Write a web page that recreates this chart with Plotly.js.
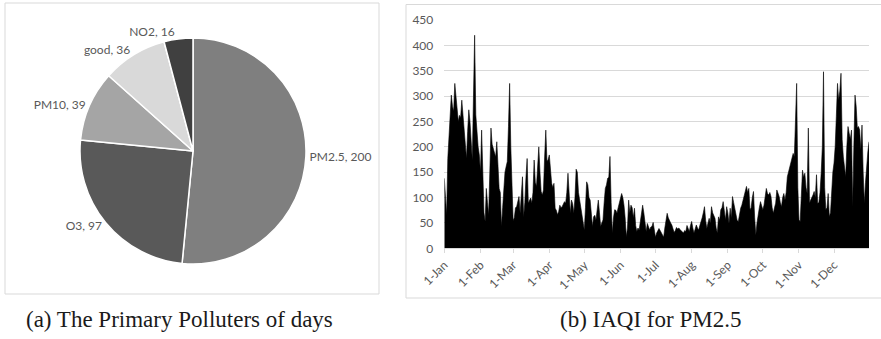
<!DOCTYPE html>
<html><head><meta charset="utf-8">
<script src="https://cdn.plot.ly/plotly-3.0.1.min.js"></script>
<style>html,body{margin:0;padding:0;background:#fff}#chart{width:881px;height:339px}</style>
</head><body><div id="chart"></div>
<script>
// ---- Pie data ----
const pollutantLabels = ['PM2.5', 'O3', 'PM10', 'good', 'NO2'];
const pollutantDays = [200, 97, 39, 36, 16];
const pollutantColors = ['#7f7f7f', '#595959', '#a5a5a5', '#d9d9d9', '#404040'];

// ---- Daily IAQI for PM2.5 ----
const jan = [138,95,66,177,230,260,302,280,270,325,299,275,250,262,258,292,266,240,200,177,230,273,250,210,174,300,420,263,220,200,184];
const feb = [150,233,120,70,53,118,90,66,150,237,205,197,187,180,210,150,118,110,43,80,120,150,161,171,240,325,200,100];
const mar = [55,60,80,82,95,102,69,100,141,62,90,140,177,89,95,99,89,110,174,130,122,170,200,150,112,105,115,180,233,171,175];
const apr = [184,150,128,120,128,79,75,66,72,85,80,82,89,92,89,110,148,100,69,95,88,69,100,156,150,110,95,85,69,50];
const may = [36,80,131,125,100,95,60,43,62,65,56,80,95,70,43,50,56,90,118,125,138,140,181,90,30,60,76,75,69,80,89];
const jun = [95,108,100,85,60,23,40,95,70,85,80,60,79,45,33,40,36,50,62,85,70,45,33,49,40,36,42,43,51,40];
const jul = [22,30,35,39,35,30,25,22,40,56,69,60,53,50,46,40,31,35,41,38,40,37,35,33,30,35,33,45,38,33,45];
const aug = [53,40,30,38,46,40,36,45,56,60,70,82,55,39,50,59,50,82,70,65,59,40,30,62,55,76,80,92,70,56,82];
const sep = [70,49,79,60,102,90,76,60,55,53,70,79,85,95,105,115,122,110,118,76,80,100,112,60,26,50,69,80,92,85];
const oct = [76,85,100,118,108,105,110,102,80,69,80,89,115,110,102,90,82,100,108,95,110,141,150,165,174,180,187,181,250,325,120];
const nov = [56,53,100,154,140,148,120,108,237,89,95,99,105,112,100,145,89,90,110,148,200,348,120,76,80,108,62,70,122,150];
const dec = [168,200,260,325,292,310,345,214,180,161,141,200,240,227,215,233,82,200,302,280,237,240,233,194,243,150,89,130,174,190,210];

const monthTickText = ['1-Jan','1-Feb','1-Mar','1-Apr','1-May','1-Jun','1-Jul','1-Aug','1-Sep','1-Oct','1-Nov','1-Dec'];
const yTicks = [0,50,100,150,200,250,300,350,400,450];
const year = 2015;

const captionA = '(a) The Primary Polluters of days';
const captionB = '(b) IAQI for PM2.5';

// ---- build ----
const months = [jan,feb,mar,apr,may,jun,jul,aug,sep,oct,nov,dec];
const iaqi = [].concat(...months);
function pad(n){return (n<10?'0':'')+n;}
const dates = [];
months.forEach((m, mi) => m.forEach((v, di) => dates.push(year+'-'+pad(mi+1)+'-'+pad(di+1))));
const monthStarts = months.map((m, mi) => year+'-'+pad(mi+1)+'-01');

const W = 881, H = 339;
const px = x => x / W, py = y => 1 - y / H;
const grayText = '#595959';
const uiFont = 'Lato, "Open Sans", sans-serif';
const serifFont = '"Liberation Serif", "DejaVu Serif", serif';

const pie = {
  type: 'pie',
  labels: pollutantLabels,
  values: pollutantDays,
  sort: false,
  direction: 'clockwise',
  rotation: 0,
  marker: {colors: pollutantColors, line: {color: '#ffffff', width: 1.5}},
  textposition: 'outside',
  texttemplate: '%{label}, %{value}',
  textfont: {family: uiFont, size: 12, color: grayText},
  outsidetextfont: {family: uiFont, size: 12, color: grayText},
  domain: {x: [px(80), px(306)], y: [py(264), py(38)]},
  automargin: false,
  showlegend: false,
  hoverinfo: 'none'
};

const area = {
  type: 'scatter',
  mode: 'lines',
  x: dates,
  y: iaqi,
  fill: 'tozeroy',
  fillcolor: '#000000',
  line: {color: '#000000', width: 0.6},
  xaxis: 'x', yaxis: 'y',
  showlegend: false,
  hoverinfo: 'none'
};

const layout = {
  width: W, height: H,
  margin: {l: 0, r: 0, t: 0, b: 0},
  paper_bgcolor: '#ffffff',
  plot_bgcolor: 'rgba(0,0,0,0)',
  showlegend: false,
  xaxis: {
    type: 'date',
    domain: [px(444.3), px(869)],
    range: [year+'-01-01', year+'-12-31'],
    tickvals: monthStarts,
    ticktext: monthTickText,
    tickangle: -45,
    ticks: 'outside', ticklen: 4, tickcolor: '#d9d9d9', tickwidth: 1,
    showline: true, linecolor: '#d9d9d9', linewidth: 1,
    showgrid: false, zeroline: false,
    tickfont: {family: uiFont, size: 12, color: grayText},
    anchor: 'y'
  },
  yaxis: {
    domain: [py(248.3), py(20)],
    range: [0, 450],
    tickvals: yTicks,
    ticks: '',
    ticklabelstandoff: 10,
    showgrid: true, gridcolor: '#d9d9d9', gridwidth: 1,
    zeroline: false, showline: false,
    tickfont: {family: uiFont, size: 12, color: grayText},
    anchor: 'x'
  },
  shapes: [
    {type: 'rect', xref: 'paper', yref: 'paper', x0: px(5), x1: px(379), y0: py(294), y1: py(3), line: {color: '#d9d9d9', width: 1}},
    {type: 'rect', xref: 'paper', yref: 'paper', x0: px(406), x1: px(895), y0: py(298), y1: py(4.5), line: {color: '#d9d9d9', width: 1}}
  ],
  annotations: [
    {xref: 'paper', yref: 'paper', x: px(24), y: py(319), text: captionA, showarrow: false, xanchor: 'left', yanchor: 'middle', font: {family: serifFont, size: 23, color: '#1a1a1a'}},
    {xref: 'paper', yref: 'paper', x: px(650), y: py(319), text: captionB, showarrow: false, xanchor: 'center', yanchor: 'middle', font: {family: serifFont, size: 23, color: '#1a1a1a'}}
  ]
};

Plotly.newPlot('chart', [pie, area], layout, {staticPlot: true, displayModeBar: false});
</script>
</body></html>
